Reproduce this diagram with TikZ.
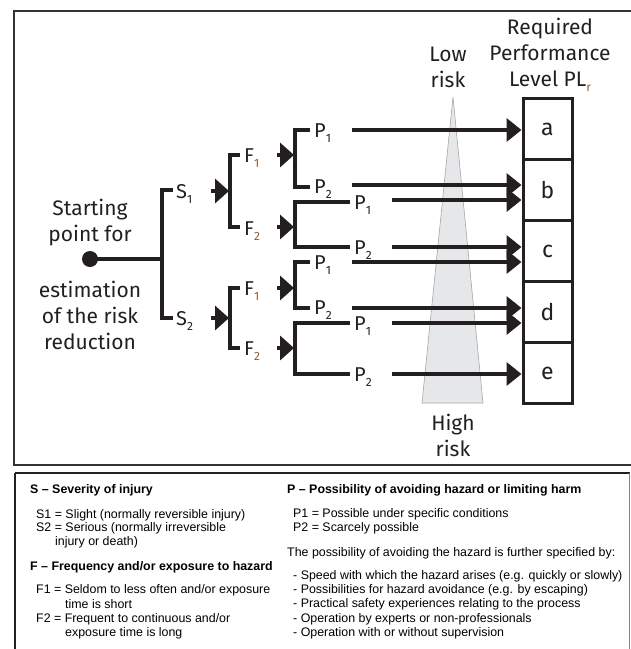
\documentclass[tikz,border=0pt]{standalone}
\usepackage{fontspec}
\newfontfamily\diag{Fira Sans}
\newfontfamily\leg{Liberation Sans}
\usetikzlibrary{arrows.meta}
\definecolor{ink}{HTML}{231F20}
\definecolor{brn}{HTML}{8B5E3C}
\definecolor{tri}{HTML}{E6E7E8}
\definecolor{frame}{HTML}{333333}
\newcommand\lo[1]{\raisebox{-0.45ex}{\fontsize{12}{12}\selectfont #1}}
\begin{document}
\begin{tikzpicture}[x=1pt,y=-1pt,
  tree/.style={line width=3.8pt, draw=ink, line join=miter},
  sarr/.style={line width=3.8pt, draw=ink, -{Triangle[length=14pt,width=24pt]}},
  barr/.style={line width=4pt, draw=ink, -{Triangle[length=15pt,width=23pt]}},
  lab/.style={font=\diag\fontsize{20}{20}\selectfont, text=ink, inner sep=1pt, anchor=west},
  big/.style={font=\diag\fontsize{21}{26}\selectfont, text=ink, align=center, inner sep=0pt},
  pl/.style={draw=ink, line width=3pt, minimum width=49pt, minimum height=61pt, inner sep=0pt, font=\diag\fontsize{23}{23}\selectfont, text=ink},
  lt/.style={font=\leg\fontsize{12.4}{14}\selectfont, anchor=west, inner sep=0pt},
  lh/.style={font=\leg\bfseries\fontsize{12.4}{14}\selectfont, anchor=west, inner sep=0pt}
]
\useasboundingbox (0,0) rectangle (631,649);
\begin{scope}
\clip (0,0) rectangle (631,649);
% frames
\draw[frame, line width=2pt] (14,11) rectangle (660,465);
\draw[ink, line width=2.8pt] (15,473) -- (629.5,473);
\draw[ink, line width=2.8pt] (15,473) -- (15,660);
\draw[gray, line width=1pt] (629.5,473) -- (629.5,660);
\end{scope}

% risk triangle
\draw[fill=tri, draw=gray!70, line width=0.6pt] (453,97) -- (483,403) -- (422,403) -- cycle;
\node[big] (low) at (448,67) {Low\\risk};
\node[big] (high) at (453,435) {High\\risk};
\node[big] (req) at (550,55) {Required\\Performance\\Level PL\textcolor{brn}{\lo{r}}};

% PL boxes
\node[pl] (a) at (547.5,129) {a};
\node[pl] (b) at (547.5,190) {b};
\node[pl] (c) at (547.5,251) {c};
\node[pl] (d) at (547.5,312) {d};
\node[pl] (e) at (547.5,373) {e};

% start
\node[big] (st1) at (90,223) {Starting\\point for};
\node[big] (st2) at (90,315) {estimation\\of the risk\\reduction};
\node[circle, fill=ink, inner sep=0pt, minimum size=16pt] (start) at (90,259) {};
\coordinate (sj) at (162,259);
\draw[tree] (start.center) -- (sj);

% S bracket
\draw[tree] (173,190) -- (162,190) -- (162,318) -- (173,318);
\node[lab] (S1) at (175,194) {S\lo{1}};
\node[lab] (S2) at (175,321) {S\lo{2}};

% arrows to F brackets
\coordinate (fa1) at (211,191); \coordinate (fb1) at (229,191);
\coordinate (fa2) at (211,318); \coordinate (fb2) at (229,318);
\draw[sarr] (fa1) -- (fb1);
\draw[sarr] (fa2) -- (fb2);

% F brackets
\draw[tree] (240,155) -- (230,155) -- (230,227) -- (240,227);
\draw[tree] (240,288) -- (230,288) -- (230,348) -- (240,348);
\node[lab] (F1a) at (243,158) {F\textcolor{brn}{\lo{1}}};
\node[lab] (F2a) at (243,231) {F\textcolor{brn}{\lo{2}}};
\node[lab] (F1b) at (243,291) {F\textcolor{brn}{\lo{1}}};
\node[lab] (F2b) at (243,351) {F\textcolor{brn}{\lo{2}}};

% arrows to P brackets
\foreach \y/\n in {155/1,227/2,288/3,348/4}{
  \coordinate (pa\n) at (277,\y); \coordinate (pb\n) at (294,\y);
  \draw[sarr] (pa\n) -- (pb\n);
}

% P brackets
\draw[tree] (310,130) -- (295,130) -- (295,187) -- (310,187);
\draw[tree] (350,202) -- (295,202) -- (295,247) -- (350,247);
\draw[tree] (310,262) -- (295,262) -- (295,308) -- (310,308);
\draw[tree] (350,323) -- (295,323) -- (295,374) -- (350,374);

\node[lab] (P11) at (313,133) {P\lo{1}};
\node[lab] (P12) at (313,189) {P\lo{2}};
\node[lab] (P21) at (353,205) {P\lo{1}};
\node[lab] (P22) at (353,250) {P\lo{2}};
\node[lab] (P31) at (313,265) {P\lo{1}};
\node[lab] (P32) at (313,310) {P\lo{2}};
\node[lab] (P41) at (353,326) {P\lo{1}};
\node[lab] (P42) at (353,377) {P\lo{2}};

% arrows to PL boxes
\coordinate (q1) at (352,130);
\coordinate (q2) at (352,185);
\coordinate (q3) at (392,200);
\coordinate (q4) at (392,247);
\coordinate (q5) at (352,262);
\coordinate (q6) at (352,308);
\coordinate (q7) at (392,323);
\coordinate (q8) at (392,374);
\draw[barr] (q1) -- (q1 -| a.west);
\draw[barr] (q2) -- (q2 -| b.west);
\draw[barr] (q3) -- (q3 -| b.west);
\draw[barr] (q4) -- (q4 -| c.west);
\draw[barr] (q5) -- (q5 -| c.west);
\draw[barr] (q6) -- (q6 -| d.west);
\draw[barr] (q7) -- (q7 -| d.west);
\draw[barr] (q8) -- (q8 -| e.west);

% legend
\node[lh] (hS) at (30,490) {S – Severity of injury};
\node[lt] (s1) at (36,515) {S1 = Slight (normally reversible injury)};
\node[lt] (s2) at (36,528) {S2 = Serious (normally irreversible};
\node[lt] (s2b) at (55,542) {injury or death)};
\node[lh] (hF) at (30,567) {F – Frequency and/or exposure to hazard};
\node[lt] (f1) at (36,590) {F1 = Seldom to less often and/or exposure};
\node[lt] (f1b) at (65,604) {time is short};
\node[lt] (f2) at (36,619) {F2 = Frequent to continuous and/or};
\node[lt] (f2b) at (65,633) {exposure time is long};

\node[lh] (hP) at (287,490) {P – Possibility of avoiding hazard or limiting harm};
\node[lt] (p1) at (293,514) {P1 = Possible under specific conditions};
\node[lt] (p2) at (293,528) {P2 = Scarcely possible};
\node[lt] (pt) at (287,553) {The possibility of avoiding the hazard is further specified by:};
\node[lt] (l1) at (293,576) {- Speed with which the hazard arises (e.g. quickly or slowly)};
\node[lt] (l2) at (293,590) {- Possibilities for hazard avoidance (e.g. by escaping)};
\node[lt] (l3) at (293,604) {- Practical safety experiences relating to the process};
\node[lt] (l4) at (293,619) {- Operation by experts or non-professionals};
\node[lt] (l5) at (293,633) {- Operation with or without supervision};
\end{tikzpicture}
\end{document}
